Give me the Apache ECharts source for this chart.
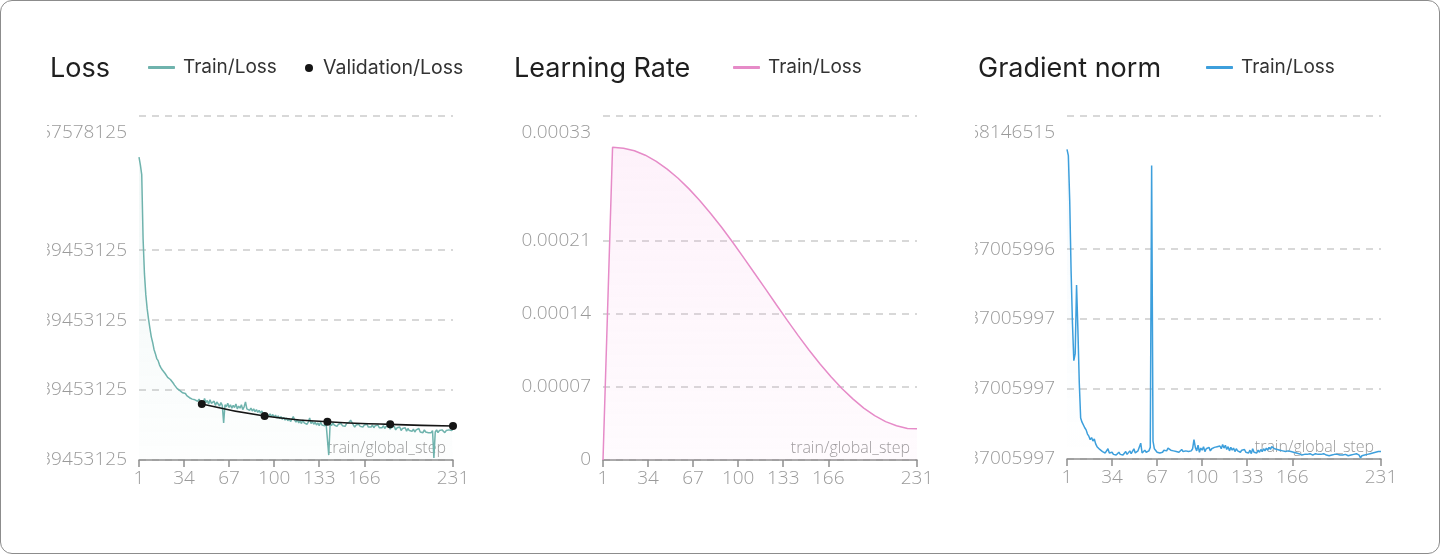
<!doctype html>
<html lang="en">
<head>
    <meta charset="utf-8">
    <title>Loss / Learning Rate / Gradient norm</title>
    <script src="https://cdn.jsdelivr.net/npm/echarts@6.0.0/dist/echarts.min.js"></script>
    <style>
        html, body { margin: 0; padding: 0; background: #fff; }
        .frame {
            position: absolute; left: 0; top: 0; width: 1440px; height: 554px;
            box-sizing: border-box; border: 1.5px solid #8c8c8c; border-radius: 12px;
            pointer-events: none; z-index: 5;
        }
        .chart { position: absolute; top: 0; width: 464px; height: 555px; }
    </style>
</head>
<body>
    <div id="loss" class="chart" style="left:47px"></div>
    <div id="lr" class="chart" style="left:511px"></div>
    <div id="grad" class="chart" style="left:975px"></div>
    <div class="frame"></div>

    <script>
        // x axis (train/global_step)
        var stepTicks = [1, 34, 67, 100, 133, 166, 231];

        // Loss: train loss per step 1..231, validation every 46 steps
        var lossTrain = [
            1.637, 1.626, 1.612, 1.520, 1.470, 1.440, 1.420, 1.405, 1.392, 1.380,
            1.372, 1.362, 1.356, 1.349, 1.346, 1.340, 1.336, 1.333, 1.334, 1.328,
            1.326, 1.322, 1.324, 1.319, 1.320, 1.314, 1.311, 1.312, 1.306, 1.308,
            1.303, 1.305, 1.300, 1.298, 1.299, 1.296, 1.297, 1.293, 1.295, 1.291,
            1.293, 1.290, 1.292, 1.288, 1.291, 1.287, 1.289, 1.285, 1.292, 1.286,
            1.289, 1.284, 1.290, 1.285, 1.283, 1.288, 1.282, 1.287, 1.284, 1.281,
            1.286, 1.282, 1.257, 1.283, 1.280, 1.285, 1.279, 1.283, 1.278, 1.282,
            1.279, 1.284, 1.277, 1.281, 1.278, 1.283, 1.276, 1.280, 1.287, 1.277,
            1.279, 1.275, 1.278, 1.274, 1.277, 1.273, 1.276, 1.272, 1.275, 1.271,
            1.274, 1.270, 1.272, 1.269, 1.271, 1.267, 1.270, 1.266, 1.269, 1.265,
            1.268, 1.264, 1.267, 1.263, 1.266, 1.262, 1.265, 1.261, 1.264, 1.260,
            1.263, 1.259, 1.262, 1.266, 1.261, 1.258, 1.262, 1.257, 1.260, 1.256,
            1.261, 1.257, 1.259, 1.255, 1.258, 1.264, 1.256, 1.259, 1.255, 1.258,
            1.254, 1.257, 1.253, 1.258, 1.254, 1.256, 1.253, 1.257, 1.255, 1.211,
            1.256, 1.253, 1.257, 1.254, 1.256, 1.252, 1.255, 1.253, 1.256, 1.253,
            1.255, 1.252, 1.256, 1.254, 1.258, 1.261, 1.263, 1.254, 1.251, 1.254,
            1.252, 1.255, 1.252, 1.254, 1.251, 1.254, 1.252, 1.255, 1.251, 1.253,
            1.251, 1.254, 1.250, 1.253, 1.251, 1.254, 1.250, 1.252, 1.250, 1.253,
            1.249, 1.252, 1.250, 1.252, 1.248, 1.251, 1.249, 1.252, 1.247, 1.250,
            1.248, 1.251, 1.246, 1.249, 1.247, 1.250, 1.245, 1.249, 1.246, 1.248,
            1.245, 1.248, 1.244, 1.247, 1.245, 1.249, 1.244, 1.246, 1.243, 1.247,
            1.244, 1.246, 1.243, 1.245, 1.243, 1.246, 1.207, 1.244, 1.247, 1.243,
            1.246, 1.244, 1.247, 1.245, 1.243, 1.246, 1.244, 1.247, 1.245, 1.246, 1.248
        ];
        var valSteps = [47, 93, 139, 185, 231];
        var valLoss = [1.2839, 1.2668, 1.2586, 1.2549, 1.2525];
        var lossTicks = [1.2039453125, 1.3039453125, 1.4039453125, 1.5039453125, 1.6957578125];
        var lossTickLabels = ['1.2039453125', '1.3039453125', '1.4039453125', '1.5039453125', '1.6957578125'];

        // Learning rate (warmup then cosine decay), read at these steps
        var lrSteps = [1, 8, 16, 24, 32, 40, 48, 56, 64, 72, 80, 88, 96, 104, 112,
            120, 128, 136, 144, 152, 160, 168, 176, 184, 192, 200, 208, 216, 224, 231];
        var lrValues = [0, 3.000e-4, 2.990e-4, 2.966e-4, 2.924e-4, 2.865e-4, 2.791e-4, 2.703e-4,
            2.601e-4, 2.488e-4, 2.363e-4, 2.230e-4, 2.089e-4, 1.942e-4, 1.792e-4, 1.641e-4,
            1.489e-4, 1.339e-4, 1.193e-4, 1.053e-4, 0.921e-4, 0.799e-4, 0.686e-4, 0.586e-4,
            0.498e-4, 0.425e-4, 0.368e-4, 0.329e-4, 0.303e-4, 0.300e-4];
        var lrTicks = [0, 0.00007, 0.00014, 0.00021, 0.00033];
        var lrTickLabels = ['0', '0.00007', '0.00014', '0.00021', '0.00033'];

        // Gradient norm per step 1..231
        var gradNorm = [
            4.64, 4.55, 3.90, 2.90, 2.15, 1.62, 1.72, 2.70, 2.05, 1.30,
            0.80, 0.74, 0.72, 0.66, 0.63, 0.57, 0.54, 0.49, 0.52, 0.47,
            0.50, 0.43, 0.39, 0.41, 0.35, 0.34, 0.32, 0.33, 0.30, 0.31,
            0.36, 0.30, 0.29, 0.31, 0.28, 0.30, 0.27, 0.29, 0.31, 0.28,
            0.30, 0.27, 0.29, 0.32, 0.28, 0.30, 0.33, 0.29, 0.31, 0.36,
            0.30, 0.28, 0.33, 0.31, 0.44, 0.30, 0.29, 0.34, 0.31, 0.30,
            0.33, 0.38, 4.41, 0.47, 0.36, 0.34, 0.31, 0.33, 0.30, 0.32,
            0.31, 0.34, 0.36, 0.33, 0.37, 0.35, 0.34, 0.36, 0.33, 0.35,
            0.32, 0.34, 0.31, 0.33, 0.35, 0.32, 0.30, 0.33, 0.31, 0.32,
            0.30, 0.33, 0.36, 0.49, 0.38, 0.33, 0.41, 0.31, 0.37, 0.34,
            0.39, 0.32, 0.36, 0.34, 0.38, 0.33, 0.36, 0.35, 0.38, 0.36,
            0.39, 0.37, 0.40, 0.36, 0.42, 0.37, 0.41, 0.35, 0.39, 0.33,
            0.38, 0.34, 0.37, 0.32, 0.36, 0.33, 0.35, 0.31, 0.34, 0.32,
            0.35, 0.31, 0.33, 0.30, 0.34, 0.29, 0.36, 0.31, 0.33, 0.30,
            0.34, 0.31, 0.35, 0.32, 0.36, 0.33, 0.37, 0.34, 0.38, 0.35,
            0.39, 0.41, 0.36, 0.38, 0.35, 0.37, 0.34, 0.36, 0.33, 0.35,
            0.32, 0.34, 0.33, 0.31, 0.32, 0.30, 0.31, 0.29, 0.30, 0.28,
            0.29, 0.28, 0.27, 0.29, 0.28, 0.27, 0.28, 0.27, 0.29, 0.28,
            0.27, 0.28, 0.29, 0.27, 0.28, 0.30, 0.28, 0.27, 0.29, 0.28,
            0.27, 0.28, 0.26, 0.28, 0.27, 0.29, 0.28, 0.27, 0.28, 0.26,
            0.27, 0.28, 0.27, 0.29, 0.28, 0.27, 0.26, 0.28, 0.27, 0.29,
            0.28, 0.27, 0.29, 0.28, 0.27, 0.23, 0.26, 0.28, 0.27, 0.29,
            0.28, 0.30, 0.29, 0.31, 0.30, 0.29, 0.31, 0.30, 0.32, 0.31, 0.32
        ];
        var gradTicks = [0.2137005997, 1.2137005997, 2.2137005997, 3.2137005996, 5.1168146515];
        var gradTickLabels = ['0.2137005997', '1.2137005997', '2.2137005997', '3.2137005996', '5.1168146515'];

        var labelFont = '"Open Sans", Lato, sans-serif';
        var titleFont = 'Inter';

        function perStep(values) {
            var out = [];
            for (var i = 0; i < values.length; i++) out.push([i + 1, values[i]]);
            return out;
        }

        function pairs(xs, ys) {
            var out = [];
            for (var i = 0; i < xs.length; i++) out.push([xs[i], ys[i]]);
            return out;
        }

        // y labels: the max label sits below its grid line
        function yFormatter(ticks, labels) {
            return function (v) {
                for (var i = 0; i < ticks.length; i++) {
                    if (Math.abs(ticks[i] - v) < 1e-12) {
                        return i === ticks.length - 1 ? '{top|' + labels[i] + '}' : labels[i];
                    }
                }
                return '';
            };
        }

        function fade(color, a1, a2) {
            return new echarts.graphic.LinearGradient(0, 0, 0, 1, [
                { offset: 0, color: 'rgba(' + color + ',' + a1 + ')' },
                { offset: 1, color: 'rgba(' + color + ',' + a2 + ')' }
            ]);
        }

        function baseOption(title, ticks, labels) {
            return {
                animation: false,
                title: {
                    text: title, left: 3, top: 55, padding: 0,
                    textStyle: { fontFamily: titleFont, fontSize: 27, fontWeight: 400, color: '#1f1f1f' }
                },
                grid: { left: 92, right: 58, top: 116, bottom: 95, containLabel: false, outerBoundsMode: 'none' },
                xAxis: {
                    type: 'value', min: 1, max: 231,
                    name: 'train/global_step', nameLocation: 'end', nameGap: -7,
                    nameTextStyle: {
                        align: 'right', verticalAlign: 'bottom', padding: [0, 0, 4, 0],
                        fontFamily: labelFont, fontWeight: 300, fontSize: 16, color: '#9a9a9a'
                    },
                    axisLine: { lineStyle: { color: '#8f8f8f', width: 1.5 } },
                    axisTick: { show: true, length: 7, lineStyle: { color: '#8f8f8f', width: 1.5 }, customValues: stepTicks },
                    axisLabel: {
                        customValues: stepTicks, margin: 9,
                        fontFamily: labelFont, fontWeight: 300, fontSize: 19, color: '#9a9a9a'
                    },
                    splitLine: { show: false }
                },
                yAxis: {
                    type: 'value', min: ticks[0], max: ticks[ticks.length - 1],
                    axisLine: { show: false },
                    axisTick: { show: false, customValues: ticks },
                    axisLabel: {
                        customValues: ticks, margin: 12,
                        fontFamily: labelFont, fontWeight: 300, fontSize: 19, color: '#9a9a9a',
                        formatter: yFormatter(ticks, labels),
                        rich: {
                            top: { padding: [33, 0, 0, 0], fontFamily: labelFont, fontWeight: 300, fontSize: 19, color: '#9a9a9a' }
                        }
                    },
                    splitLine: { show: true, lineStyle: { color: '#cccccc', width: 1.5, type: [7, 6] } }
                },
                series: []
            };
        }

        var legendText = { fontFamily: titleFont, fontSize: 19, color: '#333', padding: [0, 0, 0, 3] };

        // Loss
        var lossChart = echarts.init(document.getElementById('loss'));
        var lossOption = baseOption('Loss', lossTicks, lossTickLabels);
        lossOption.legend = [
            { data: ['Train/Loss'], left: 101, top: 58, padding: 0, icon: 'roundRect', itemWidth: 27, itemHeight: 3, textStyle: legendText, selectedMode: false },
            { data: ['Validation/Loss'], left: 258, top: 58, padding: 0, icon: 'circle', itemWidth: 8, itemHeight: 8, textStyle: { fontFamily: titleFont, fontSize: 19.5, color: '#333', padding: [0, 0, 0, 5] }, selectedMode: false }
        ];
        lossOption.series = [
            {
                name: 'Train/Loss', type: 'line', data: perStep(lossTrain),
                symbol: 'none', color: '#6fb3ad',
                lineStyle: { width: 1.5, color: '#6fb3ad' },
                areaStyle: { color: fade('111,179,173', 0.14, 0.02) }
            },
            {
                name: 'Validation/Loss', type: 'line', data: pairs(valSteps, valLoss),
                smooth: true, symbol: 'circle', symbolSize: 8, color: '#151515',
                lineStyle: { width: 1.6, color: '#151515' }, z: 3
            }
        ];
        lossChart.setOption(lossOption);

        // Learning Rate
        var lrChart = echarts.init(document.getElementById('lr'));
        var lrOption = baseOption('Learning Rate', lrTicks, lrTickLabels);
        lrOption.legend = { data: ['Train/Loss'], left: 222, top: 58, padding: 0, icon: 'roundRect', itemWidth: 27, itemHeight: 3, textStyle: legendText, selectedMode: false };
        lrOption.series = [{
            name: 'Train/Loss', type: 'line', data: pairs(lrSteps, lrValues),
            symbol: 'none', color: '#e68bc8',
            lineStyle: { width: 1.5, color: '#e68bc8' },
            areaStyle: { color: fade('246,170,226', 0.22, 0.07) }
        }];
        lrChart.setOption(lrOption);

        // Gradient norm
        var gradChart = echarts.init(document.getElementById('grad'));
        var gradOption = baseOption('Gradient norm', gradTicks, gradTickLabels);
        gradOption.grid.bottom = 96;
        gradOption.legend = { data: ['Train/Loss'], left: 231, top: 58, padding: 0, icon: 'roundRect', itemWidth: 27, itemHeight: 3, textStyle: legendText, selectedMode: false };
        gradOption.series = [{
            name: 'Train/Loss', type: 'line', data: perStep(gradNorm),
            symbol: 'none', color: '#3d9fdc',
            lineStyle: { width: 1.5, color: '#3d9fdc' },
            areaStyle: { color: fade('61,159,220', 0.07, 0.0) }
        }];
        gradChart.setOption(gradOption);

        window.addEventListener('resize', function () {
            lossChart.resize();
            lrChart.resize();
            gradChart.resize();
        });
    </script>
</body>
</html>
